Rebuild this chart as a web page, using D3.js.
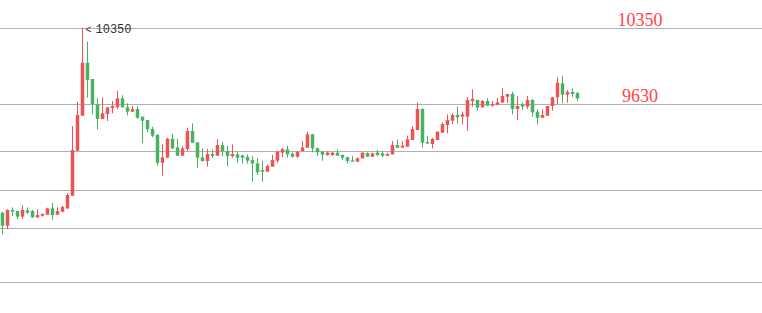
<!DOCTYPE html>
<html>
<head>
<meta charset="utf-8">
<script src="https://cdn.jsdelivr.net/npm/d3@7"></script>
<style>
  body { margin: 0; background: #fff; }
</style>
</head>
<body>
<svg id="svg_kline"></svg>
<script>
const width = 762;
const height = 313;

// OHLC, one entry per day
const opens = [
  8600, 8477, 8626, 8616, 8563, 8623, 8616, 8557, 8572, 8582, 8641, 8582, 8610, 8641, 8761, 9187,
  9519, 10021, 9867, 9627, 9488, 9535, 9592, 9599, 9684, 9599, 9557, 9582, 9510, 9478, 9393, 9337,
  9073, 9121, 9300, 9219, 9140, 9203, 9374, 9267, 9125, 9090, 9156, 9140, 9241, 9184, 9137, 9153,
  9143, 9128, 9099, 9067, 9005, 8989, 9036, 9093, 9169, 9200, 9159, 9131, 9184, 9216, 9343, 9210,
  9178, 9147, 9147, 9169, 9147, 9125, 9096, 9083, 9115, 9166, 9131, 9169, 9162, 9140, 9153, 9241,
  9216, 9226, 9289, 9384, 9583, 9270, 9251, 9289, 9358, 9431, 9472, 9526, 9510, 9510, 9658, 9668,
  9599, 9658, 9614, 9621, 9643, 9699, 9725, 9583, 9627, 9605, 9668, 9557, 9500, 9519, 9611, 9694,
  9826, 9718, 9744, 9734
];
const closes = [
  8477, 8626, 8610, 8563, 8626, 8600, 8557, 8578, 8588, 8641, 8578, 8616, 8654, 8768, 9194, 9526,
  10021, 9857, 9630, 9488, 9542, 9599, 9611, 9684, 9599, 9557, 9582, 9500, 9472, 9390, 9330, 9073,
  9125, 9300, 9210, 9140, 9210, 9374, 9263, 9121, 9090, 9156, 9137, 9241, 9184, 9137, 9156, 9121,
  9121, 9093, 9067, 8983, 8989, 9042, 9099, 9178, 9203, 9153, 9131, 9178, 9219, 9343, 9210, 9172,
  9150, 9169, 9169, 9140, 9121, 9090, 9083, 9115, 9169, 9131, 9162, 9147, 9140, 9156, 9241, 9216,
  9235, 9295, 9393, 9583, 9263, 9257, 9298, 9368, 9440, 9478, 9526, 9504, 9532, 9668, 9677, 9596,
  9658, 9614, 9627, 9646, 9706, 9725, 9583, 9611, 9605, 9668, 9551, 9500, 9526, 9611, 9694, 9831,
  9718, 9744, 9725, 9684
];
const highs = [
  8610, 8632, 8651, 8616, 8670, 8651, 8626, 8632, 8595, 8647, 8692, 8651, 8666, 8787, 9421, 9649,
  10350, 10220, 9867, 9684, 9694, 9599, 9658, 9756, 9713, 9637, 9611, 9611, 9510, 9478, 9415, 9346,
  9248, 9310, 9346, 9300, 9232, 9406, 9447, 9267, 9210, 9203, 9200, 9295, 9270, 9232, 9248, 9175,
  9150, 9153, 9137, 9118, 9093, 9058, 9147, 9184, 9216, 9235, 9172, 9184, 9279, 9368, 9346, 9219,
  9184, 9178, 9175, 9200, 9153, 9131, 9140, 9125, 9172, 9172, 9169, 9194, 9184, 9169, 9279, 9295,
  9279, 9330, 9421, 9643, 9589, 9330, 9310, 9368, 9456, 9532, 9542, 9605, 9557, 9694, 9769, 9668,
  9668, 9684, 9658, 9687, 9783, 9725, 9747, 9706, 9643, 9706, 9677, 9580, 9580, 9611, 9699, 9883,
  9898, 9763, 9779, 9744
];
const lows = [
  8395, 8443, 8569, 8538, 8544, 8588, 8550, 8550, 8563, 8578, 8531, 8578, 8604, 8635, 8761, 9187,
  9519, 9690, 9532, 9390, 9488, 9469, 9542, 9580, 9597, 9523, 9557, 9488, 9258, 9362, 9315, 9045,
  8951, 9121, 9200, 9140, 9140, 9184, 9263, 9026, 9083, 9036, 9118, 9140, 9134, 9042, 9121, 9073,
  9067, 9065, 8894, 8958, 8894, 8989, 9036, 9073, 9125, 9121, 9121, 9118, 9184, 9216, 9172, 9137,
  9093, 9140, 9137, 9140, 9099, 9067, 9083, 9083, 9115, 9131, 9131, 9137, 9125, 9137, 9153, 9216,
  9216, 9226, 9289, 9384, 9216, 9251, 9210, 9289, 9358, 9352, 9440, 9447, 9437, 9374, 9605, 9567,
  9596, 9614, 9605, 9621, 9643, 9637, 9532, 9478, 9573, 9583, 9510, 9437, 9500, 9519, 9567, 9630,
  9637, 9643, 9694, 9658
];

// horizontal reference lines and the two labelled price levels
const gridValues = [10350, 9630, 9185, 8815, 8455, 7945];
const levelLabels = ['10350', '9630'];
const maxValue = 10350;

const upColor = '#eb5454';
const downColor = '#47b262';

const data = opens.map((o, i) => ({ i, o, c: closes[i], h: highs[i], l: lows[i] }));

const x = d3
  .scaleBand()
  .domain(data.map((d) => d.i))
  .range([0, 580])
  .paddingInner(0.3)
  .paddingOuter(0.15);

const y = d3.scaleLinear().domain([9630, 10350]).range([104, 28]);

const svg = d3.select('#svg_kline')
  .attr('width', width)
  .attr('height', height);

svg
  .append('g')
  .selectAll('line')
  .data(gridValues)
  .join('line')
  .attr('x1', 0)
  .attr('x2', width)
  .attr('y1', (d) => Math.round(y(d)) + 0.5)
  .attr('y2', (d) => Math.round(y(d)) + 0.5)
  .attr('stroke', '#b0b0b0')
  .attr('stroke-width', 1);

const candle = svg
  .append('g')
  .selectAll('g')
  .data(data)
  .join('g')
  .attr('transform', (d) => `translate(${x(d.i)}, 0)`)
  .attr('fill', (d) => (d.c >= d.o ? upColor : downColor))
  .attr('stroke', (d) => (d.c >= d.o ? upColor : downColor));

// wick
candle
  .append('line')
  .attr('x1', x.bandwidth() / 2)
  .attr('x2', x.bandwidth() / 2)
  .attr('y1', (d) => y(d.h))
  .attr('y2', (d) => y(d.l))
  .attr('stroke-width', 1);

// body
candle
  .append('rect')
  .attr('x', 0)
  .attr('width', x.bandwidth())
  .attr('y', (d) => y(Math.max(d.o, d.c)))
  .attr('height', (d) => Math.max(1, Math.abs(y(d.o) - y(d.c))))
  .attr('stroke', 'none');

// max marker, struck through by its grid line
const maxIdx = highs.indexOf(maxValue);
const maxX = x(maxIdx) + x.bandwidth() / 2;

svg
  .append('text')
  .text('<')
  .attr('x', maxX + 3)
  .attr('y', y(maxValue) + 2)
  .attr('dominant-baseline', 'middle')
  .attr('font-family', 'Liberation Mono')
  .attr('font-size', 10)
  .attr('fill', '#333');

svg
  .append('text')
  .text(String(maxValue))
  .attr('x', maxX + 13)
  .attr('y', y(maxValue) + 2)
  .attr('dominant-baseline', 'middle')
  .attr('font-family', 'Liberation Mono')
  .attr('font-size', 12)
  .attr('fill', '#333');

svg
  .append('g')
  .selectAll('text')
  .data(levelLabels)
  .join('text')
  .text((d) => d)
  .attr('x', 640)
  .attr('y', (d) => y(+d) - 2)
  .attr('text-anchor', 'middle')
  .attr('font-family', 'Liberation Serif')
  .attr('font-size', 18)
  .attr('fill', '#ff4444');
</script>
</body>
</html>
